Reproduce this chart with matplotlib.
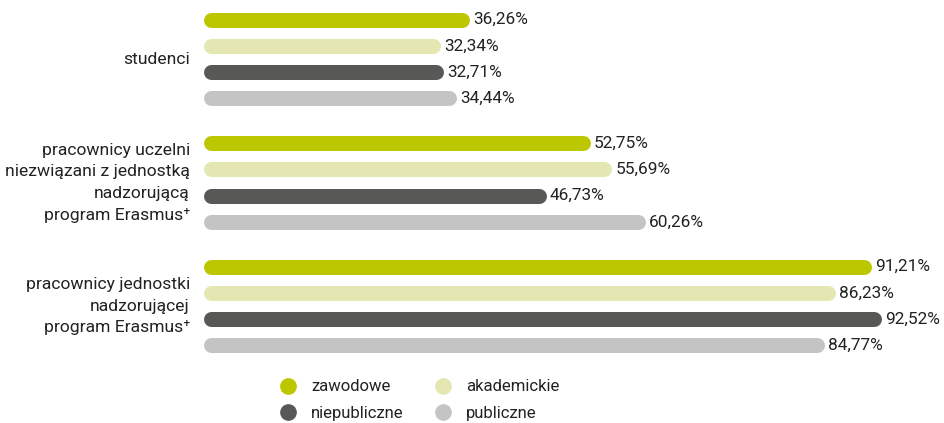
import matplotlib
matplotlib.use("Agg")
import matplotlib.pyplot as plt
from matplotlib.lines import Line2D

categories = ["studenci",
              "pracownicy uczelni\nniezwiązani z jednostką\nnadzorującą\nprogram Erasmus⁺",
              "pracownicy jednostki\nnadzorującej\nprogram Erasmus⁺"]
series = ["zawodowe", "akademickie", "niepubliczne", "publiczne"]
values = {
    "zawodowe":     [36.26, 52.75, 91.21],
    "akademickie":  [32.34, 55.69, 86.23],
    "niepubliczne": [32.71, 46.73, 92.52],
    "publiczne":    [34.44, 60.26, 84.77],
}
colors = {"zawodowe": "#bdc700", "akademickie": "#e5e7b2",
          "niepubliczne": "#585857", "publiczne": "#c4c4c4"}

W, H, DPI = 945, 423, 100
plt.rcParams['font.family'] = ['Roboto', 'DejaVu Sans']
TXT = "#222222"
FS = 12.4

fig = plt.figure(figsize=(W / DPI, H / DPI), dpi=DPI)
x0_px = 204
px_per_unit = 7.32
ax = fig.add_axes([x0_px / W, 0, (W - x0_px) / W, 1])
ax.set_xlim(0, (W - x0_px) / px_per_unit)
ax.set_ylim(H, 0)
ax.axis("off")

bar_px = 15
lw_pt = bar_px * 72 / DPI
r = (bar_px / 2) / px_per_unit
group_start, group_step, bar_step = 19.8, 123.5, 26.2

for g, cat in enumerate(categories):
    ys = [group_start + g * group_step + i * bar_step for i in range(len(series))]
    for i, s in enumerate(series):
        v = values[s][g]
        ax.plot([r, v - r], [ys[i], ys[i]], color=colors[s], lw=lw_pt,
                solid_capstyle="round")
        ax.text(v + 0.5, ys[i], f"{v:.2f}%".replace(".", ","), ha="left",
                va="center", fontsize=FS, color=TXT)
    yc = sum(ys) / len(ys)
    ax.text(-14 / px_per_unit, yc, cat, ha="right", va="center",
            fontsize=12.6, color=TXT, linespacing=1.55, clip_on=False)

order = ["zawodowe", "niepubliczne", "akademickie", "publiczne"]
handles = [Line2D([], [], marker="o", ls="none", markersize=11,
                  markerfacecolor=colors[s], markeredgecolor=colors[s]) for s in order]
fig.legend(handles, order, loc="upper left", bbox_to_anchor=(270 / W, 1 - 371 / H),
           ncol=2, frameon=False, fontsize=12, handlelength=1.2,
           handletextpad=0.75, columnspacing=1.8, labelspacing=0.7,
           borderpad=0, labelcolor=TXT)

fig.savefig("out.png", dpi=DPI)
